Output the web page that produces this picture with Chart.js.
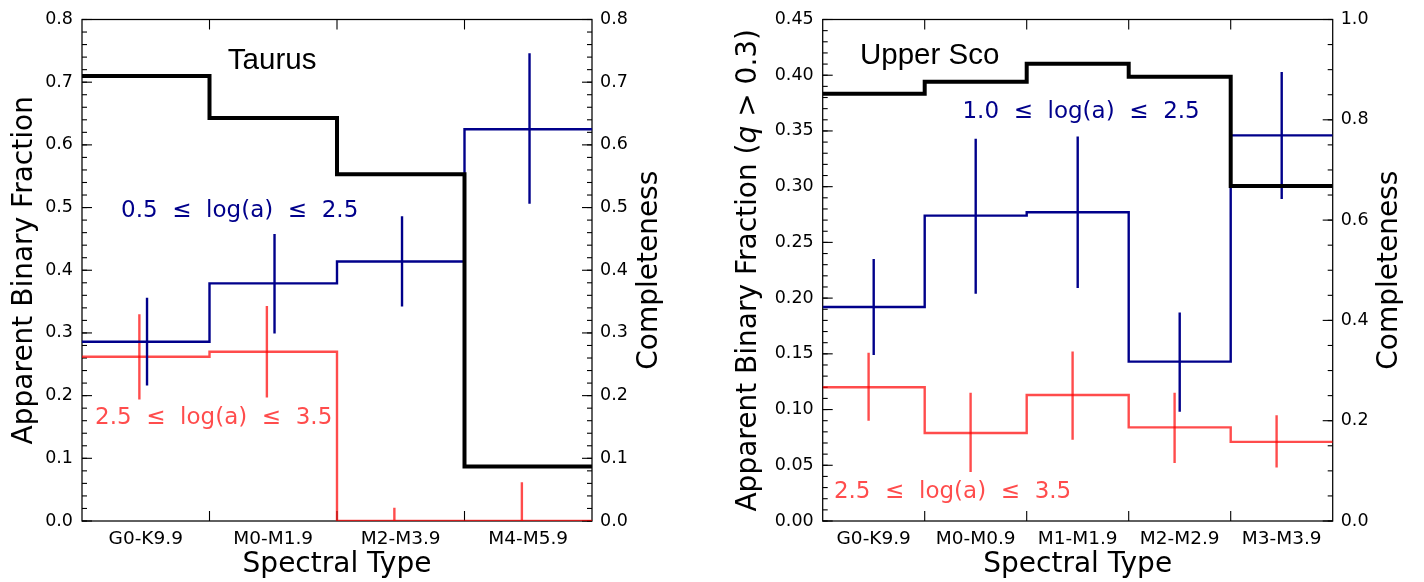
<!DOCTYPE html>
<html>
<head>
<meta charset="utf-8">
<script src="https://cdn.jsdelivr.net/npm/chart.js@4/dist/chart.umd.min.js"></script>
<style>
  body { margin: 0; background: #fff; }
  canvas { position: absolute; top: 0; }
</style>
</head>
<body>
<canvas id="taurus" width="712" height="582" style="left:0"></canvas>
<canvas id="usco" width="712" height="582" style="left:712px"></canvas>
<script>
// Taurus
const taurusTypes = ['G0-K9.9', 'M0-M1.9', 'M2-M3.9', 'M4-M5.9'];
const taurusCompleteness = [0.710, 0.643, 0.553, 0.087];
const taurusInner = [0.286, 0.379, 0.414, 0.625];
const taurusInnerLo = [0.216, 0.299, 0.342, 0.506];
const taurusInnerHi = [0.356, 0.458, 0.486, 0.746];
const taurusOuter = [0.262, 0.270, 0.0, 0.0];
const taurusOuterLo = [0.194, 0.197, -0.021, -0.062];
const taurusOuterHi = [0.330, 0.343, 0.021, 0.062];

// Upper Sco
const uscoTypes = ['G0-K9.9', 'M0-M0.9', 'M1-M1.9', 'M2-M2.9', 'M3-M3.9'];
const uscoCompleteness = [0.852, 0.876, 0.912, 0.886, 0.668];
const uscoInner = [0.192, 0.274, 0.277, 0.143, 0.346];
const uscoInnerLo = [0.149, 0.204, 0.209, 0.098, 0.289];
const uscoInnerHi = [0.235, 0.343, 0.345, 0.187, 0.403];
const uscoOuter = [0.120, 0.079, 0.113, 0.084, 0.071];
const uscoOuterLo = [0.090, 0.044, 0.073, 0.052, 0.048];
const uscoOuterHi = [0.151, 0.115, 0.152, 0.115, 0.095];

const BLUE = '#00008b';
const RED = 'rgba(255,0,0,0.7)';
const FONT = 'DejaVu Sans';

// step line: one point per bin edge, last value repeated
function steps(vals) {
  const pts = vals.map((v, i) => ({ x: i, y: v }));
  pts.push({ x: vals.length, y: vals[vals.length - 1] });
  return pts;
}

// vertical error bars, broken by nulls
function errBars(lo, hi, shift) {
  const pts = [];
  lo.forEach((l, i) => {
    pts.push({ x: i + 0.5 + shift, y: l });
    pts.push({ x: i + 0.5 + shift, y: hi[i] });
    pts.push({ x: i + 0.5 + shift, y: null });
  });
  return pts;
}

// frame and inward ticks like matplotlib
const inTicks = {
  id: 'inTicks',
  beforeDatasetsDraw(chart, args, opts) {
    const { ctx, chartArea: a } = chart;
    ctx.save();
    ctx.strokeStyle = '#000';
    ctx.lineWidth = 1.25;
    ctx.strokeRect(a.left, a.top, a.right - a.left, a.bottom - a.top);
    ctx.lineWidth = 1.1;
    const seg = (x1, y1, x2, y2) => {
      ctx.beginPath(); ctx.moveTo(x1, y1); ctx.lineTo(x2, y2); ctx.stroke();
    };
    ['y', 'y2'].forEach(id => {
      const s = chart.scales[id];
      const x0 = s.position === 'left' ? a.left : a.right;
      const dir = s.position === 'left' ? 1 : -1;
      s.ticks.forEach(t => {
        const py = s.getPixelForValue(t.value);
        seg(x0, py, x0 + dir * 10, py);
      });
      const m = opts.minor[id];
      const n = Math.round((s.max - s.min) / m);
      for (let k = 0; k <= n; k++) {
        const py = s.getPixelForValue(s.min + k * m);
        seg(x0, py, x0 + dir * 5, py);
      }
    });
    const sx = chart.scales.x;
    for (let i = 1; i < sx.max; i++) {
      const px = sx.getPixelForValue(i);
      seg(px, a.top, px, a.top + 10);
      seg(px, a.bottom, px, a.bottom - 10);
    }
    ctx.restore();
  }
};

// text placed in axes fractions
const notes = {
  id: 'notes',
  afterDatasetsDraw(chart, args, opts) {
    const { ctx, chartArea: a } = chart;
    ctx.save();
    ctx.textBaseline = 'middle';
    ctx.textAlign = 'left';
    opts.items.forEach(it => {
      ctx.font = it.font;
      ctx.fillStyle = it.color;
      ctx.fillText(it.text, a.left + it.fx * (a.right - a.left), a.top + it.fy * (a.bottom - a.top));
    });
    // rotated y titles
    opts.side.forEach(st => {
      ctx.save();
      ctx.translate(st.x, (a.top + a.bottom) / 2);
      ctx.rotate(-Math.PI / 2);
      ctx.fillStyle = '#000';
      let total = 0;
      st.parts.forEach(p => { ctx.font = p.font; total += ctx.measureText(p.text).width; });
      let x = -total / 2;
      st.parts.forEach(p => {
        ctx.font = p.font;
        ctx.fillText(p.text, x, 0);
        x += ctx.measureText(p.text).width;
      });
      ctx.restore();
    });
    ctx.restore();
  }
};

function makeChart(id, c) {
  const n = c.types.length;
  return new Chart(document.getElementById(id), {
    type: 'line',
    data: {
      datasets: [
        { data: steps(c.comp), yAxisID: 'y2', borderColor: '#000', borderWidth: 4, stepped: 'before', order: 0 },
        { data: steps(c.inner), yAxisID: 'y', borderColor: BLUE, borderWidth: 2.4, stepped: 'before', order: 1 },
        { data: errBars(c.innerLo, c.innerHi, c.blueShift), yAxisID: 'y', borderColor: BLUE, borderWidth: 2.4, order: 1 },
        { data: steps(c.outer), yAxisID: 'y', borderColor: RED, borderWidth: 2.4, stepped: 'before', order: 2 },
        { data: errBars(c.outerLo, c.outerHi, -0.05), yAxisID: 'y', borderColor: RED, borderWidth: 2.4, order: 2 }
      ]
    },
    options: {
      responsive: false,
      animation: false,
      devicePixelRatio: 1,
      layout: { padding: { top: 13, left: 0, right: 0, bottom: 0 } },
      elements: { point: { radius: 0 }, line: { tension: 0 } },
      plugins: {
        legend: { display: false },
        tooltip: { enabled: false },
        inTicks: { minor: c.minor },
        notes: { items: c.notes, side: c.side }
      },
      scales: {
        x: {
          type: 'linear', min: 0, max: n,
          grid: { display: false, drawTicks: false }, border: { display: false },
          afterBuildTicks: s => { s.ticks = c.types.map((_, i) => ({ value: i + 0.5 })); },
          afterFit: s => { s.height = 61; },
          ticks: { autoSkip: false, maxRotation: 0, padding: 7, color: '#000',
                   font: { family: FONT, size: 18.5 }, callback: (v, i) => c.types[i] },
          title: { display: true, text: 'Spectral Type', color: '#000',
                   font: { family: FONT, size: 28 }, padding: { top: 0, bottom: 0 } }
        },
        y: {
          position: 'left', min: 0, max: c.yMax,
          grid: { display: false, drawTicks: false }, border: { display: false },
          afterFit: s => { s.width = c.leftW; },
          ticks: { stepSize: c.yStep, padding: 9, color: '#000', font: { family: FONT, size: 17.5 },
                   callback: v => v.toFixed(c.yDec) }
        },
        y2: {
          position: 'right', min: 0, max: c.y2Max,
          grid: { display: false, drawTicks: false }, border: { display: false },
          afterFit: s => { s.width = c.rightW; },
          ticks: { stepSize: c.y2Step, padding: 8, color: '#000', font: { family: FONT, size: 17.5 },
                   callback: v => v.toFixed(1) }
        }
      }
    },
    plugins: [inTicks, notes]
  });
}

const titleFont = '28px "DejaVu Sans"';
const noteFont = '23px "DejaVu Sans"';
const labelFont = '29.5px "Liberation Sans"';

makeChart('taurus', {
  types: taurusTypes, comp: taurusCompleteness,
  inner: taurusInner, innerLo: taurusInnerLo, innerHi: taurusInnerHi,
  outer: taurusOuter, outerLo: taurusOuterLo, outerHi: taurusOuterHi,
  blueShift: 0.01,
  yMax: 0.8, yStep: 0.1, yDec: 1, y2Max: 0.8, y2Step: 0.1,
  minor: { y: 0.02, y2: 0.02 },
  leftW: 82, rightW: 120,
  notes: [
    { text: 'Taurus', fx: 0.286, fy: 0.083, color: '#000', font: labelFont },
    { text: '0.5  \u2264  log(a)  \u2264  2.5', fx: 0.0765, fy: 0.382, color: BLUE, font: noteFont },
    { text: '2.5  \u2264  log(a)  \u2264  3.5', fx: 0.0255, fy: 0.795, color: RED, font: noteFont }
  ],
  side: [
    { x: 25, parts: [{ text: 'Apparent Binary Fraction', font: titleFont }] },
    { x: 650, parts: [{ text: 'Completeness', font: titleFont }] }
  ]
});

makeChart('usco', {
  types: uscoTypes, comp: uscoCompleteness,
  inner: uscoInner, innerLo: uscoInnerLo, innerHi: uscoInnerHi,
  outer: uscoOuter, outerLo: uscoOuterLo, outerHi: uscoOuterHi,
  blueShift: 0,
  yMax: 0.45, yStep: 0.05, yDec: 2, y2Max: 1.0, y2Step: 0.2,
  minor: { y: 0.01, y2: 0.05 },
  leftW: 110.7, rightW: 91.3,
  notes: [
    { text: 'Upper Sco', fx: 0.073, fy: 0.073, color: '#000', font: labelFont },
    { text: '1.0  \u2264  log(a)  \u2264  2.5', fx: 0.274, fy: 0.185, color: BLUE, font: noteFont },
    { text: '2.5  \u2264  log(a)  \u2264  3.5', fx: 0.022, fy: 0.942, color: RED, font: noteFont }
  ],
  side: [
    { x: 37, parts: [
      { text: 'Apparent Binary Fraction (', font: titleFont },
      { text: 'q', font: 'italic 28px "DejaVu Sans"' },
      { text: ' > 0.3)', font: titleFont }
    ] },
    { x: 678, parts: [{ text: 'Completeness', font: titleFont }] }
  ]
});
</script>
</body>
</html>
